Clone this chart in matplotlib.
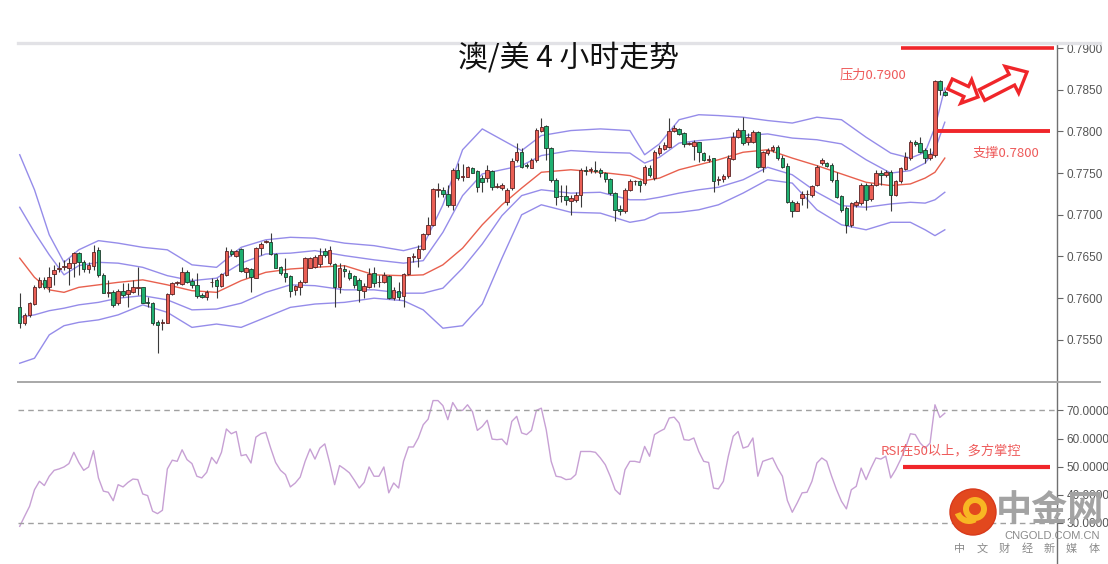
import matplotlib
matplotlib.use("Agg")
import matplotlib.pyplot as plt
import numpy as np
from matplotlib.patches import Polygon, Circle, Wedge
from matplotlib.lines import Line2D

plt.rcParams['font.family'] = ['Liberation Sans', 'Noto Sans CJK SC', 'DejaVu Sans']
CJK = ['Noto Sans CJK SC', 'DejaVu Sans']

# ---- data (prices in pips, 1e-4) ----
open_pips = [
    7589, 7570, 7580, 7593, 7613, 7622, 7613, 7629, 7635, 7637,
    7636, 7642, 7654, 7643, 7635, 7639, 7658, 7628, 7606, 7607,
    7594, 7609, 7605, 7607, 7612, 7613, 7595, 7594, 7571, 7570,
    7570, 7605, 7618, 7617, 7631, 7621, 7616, 7604, 7601, 7619,
    7622, 7615, 7628, 7657, 7651, 7659, 7631, 7635, 7624, 7660,
    7667, 7667, 7653, 7637, 7630, 7627, 7610, 7613, 7619, 7636,
    7637, 7641, 7657, 7642, 7641, 7613, 7635, 7630, 7627, 7622,
    7609, 7613, 7630, 7619, 7619, 7627, 7600, 7609, 7603, 7629,
    7649, 7648, 7659, 7677, 7688, 7730, 7730, 7725, 7712, 7754,
    7745, 7745, 7756, 7753, 7744, 7744, 7753, 7733, 7732, 7715,
    7732, 7766, 7775, 7760, 7756, 7766, 7801, 7807, 7780, 7742,
    7723, 7723, 7717, 7718, 7724, 7754, 7754, 7754, 7754, 7750,
    7743, 7726, 7707, 7704, 7730, 7740, 7740, 7738, 7756, 7744,
    7774, 7779, 7781, 7801, 7803, 7798, 7785, 7783, 7787, 7774,
    7766, 7768, 7742, 7743, 7747, 7767, 7793, 7802, 7787, 7787,
    7799, 7757, 7774, 7778, 7781, 7768, 7759, 7715, 7705, 7720,
    7725, 7724, 7736, 7762, 7762, 7760, 7742, 7723, 7708, 7688,
    7712, 7714, 7736, 7719, 7736, 7750, 7748, 7751, 7724, 7740,
    7755, 7768, 7787, 7786, 7778, 7768, 7772, 7860, 7847]
high_pips = [
    7606, 7582, 7595, 7616, 7625, 7625, 7637, 7640, 7643, 7646,
    7648, 7655, 7655, 7646, 7643, 7664, 7661, 7630, 7622, 7610,
    7611, 7618, 7618, 7622, 7637, 7613, 7601, 7595, 7574, 7575,
    7606, 7619, 7621, 7637, 7634, 7624, 7630, 7606, 7610, 7624,
    7624, 7630, 7661, 7659, 7658, 7660, 7637, 7636, 7661, 7667,
    7670, 7678, 7654, 7639, 7648, 7628, 7616, 7622, 7649, 7649,
    7652, 7660, 7660, 7662, 7642, 7642, 7640, 7634, 7628, 7624,
    7618, 7636, 7637, 7628, 7631, 7628, 7613, 7619, 7630, 7649,
    7654, 7664, 7678, 7697, 7732, 7738, 7733, 7736, 7756, 7762,
    7761, 7759, 7757, 7754, 7748, 7760, 7754, 7738, 7738, 7732,
    7768, 7786, 7780, 7762, 7768, 7804, 7816, 7808, 7781, 7744,
    7736, 7736, 7724, 7727, 7756, 7759, 7757, 7765, 7756, 7751,
    7744, 7727, 7712, 7732, 7743, 7742, 7742, 7760, 7760, 7778,
    7784, 7787, 7816, 7808, 7804, 7799, 7787, 7790, 7787, 7775,
    7772, 7768, 7746, 7749, 7772, 7799, 7804, 7817, 7798, 7802,
    7801, 7777, 7780, 7784, 7784, 7772, 7762, 7718, 7716, 7728,
    7730, 7736, 7760, 7768, 7763, 7762, 7751, 7724, 7710, 7715,
    7718, 7738, 7738, 7738, 7754, 7754, 7754, 7754, 7742, 7757,
    7775, 7790, 7790, 7793, 7780, 7780, 7862, 7862, 7850]
low_pips = [
    7564, 7568, 7577, 7592, 7612, 7611, 7607, 7616, 7631, 7634,
    7616, 7625, 7628, 7631, 7630, 7634, 7625, 7606, 7601, 7589,
    7592, 7601, 7589, 7606, 7604, 7594, 7589, 7568, 7534, 7562,
    7570, 7604, 7616, 7616, 7618, 7612, 7600, 7600, 7598, 7613,
    7600, 7613, 7627, 7651, 7649, 7631, 7624, 7607, 7624, 7652,
    7666, 7652, 7636, 7628, 7619, 7601, 7604, 7604, 7618, 7636,
    7636, 7637, 7649, 7640, 7589, 7606, 7625, 7622, 7612, 7595,
    7600, 7612, 7613, 7613, 7618, 7599, 7598, 7598, 7589, 7628,
    7643, 7637, 7658, 7676, 7687, 7721, 7721, 7709, 7706, 7742,
    7740, 7745, 7750, 7727, 7727, 7739, 7730, 7732, 7730, 7712,
    7730, 7763, 7756, 7756, 7756, 7763, 7799, 7766, 7739, 7712,
    7715, 7712, 7700, 7715, 7709, 7748, 7750, 7750, 7745, 7739,
    7724, 7693, 7700, 7702, 7729, 7736, 7727, 7736, 7745, 7742,
    7772, 7778, 7780, 7799, 7796, 7781, 7784, 7766, 7763, 7765,
    7763, 7727, 7736, 7739, 7744, 7766, 7792, 7784, 7784, 7786,
    7756, 7751, 7772, 7775, 7766, 7756, 7714, 7697, 7704, 7712,
    7708, 7721, 7734, 7760, 7757, 7739, 7720, 7703, 7678, 7685,
    7709, 7712, 7706, 7717, 7735, 7736, 7745, 7704, 7723, 7738,
    7754, 7766, 7782, 7774, 7762, 7766, 7769, 7844, 7843]
close_pips = [
    7570, 7580, 7594, 7613, 7622, 7613, 7625, 7634, 7636, 7638,
    7642, 7654, 7643, 7635, 7640, 7655, 7628, 7606, 7607, 7592,
    7609, 7604, 7610, 7613, 7613, 7594, 7594, 7570, 7568, 7571,
    7605, 7618, 7619, 7631, 7619, 7616, 7603, 7601, 7607, 7619,
    7615, 7629, 7657, 7653, 7657, 7633, 7636, 7625, 7660, 7665,
    7668, 7653, 7636, 7630, 7625, 7609, 7615, 7619, 7648, 7648,
    7649, 7652, 7652, 7658, 7613, 7636, 7633, 7624, 7616, 7610,
    7615, 7629, 7618, 7620, 7628, 7600, 7610, 7601, 7629, 7649,
    7650, 7659, 7677, 7688, 7731, 7731, 7725, 7712, 7754, 7744,
    7746, 7757, 7750, 7733, 7739, 7754, 7733, 7734, 7736, 7730,
    7765, 7775, 7757, 7759, 7766, 7802, 7805, 7780, 7742, 7721,
    7722, 7718, 7720, 7724, 7754, 7753, 7755, 7753, 7750, 7743,
    7726, 7706, 7705, 7730, 7741, 7741, 7736, 7757, 7748, 7775,
    7780, 7784, 7801, 7804, 7797, 7785, 7786, 7787, 7775, 7766,
    7767, 7741, 7743, 7747, 7768, 7793, 7802, 7786, 7793, 7799,
    7757, 7775, 7778, 7781, 7768, 7757, 7715, 7705, 7714, 7725,
    7725, 7734, 7757, 7766, 7759, 7742, 7721, 7706, 7688, 7714,
    7715, 7736, 7718, 7736, 7750, 7748, 7751, 7724, 7740, 7756,
    7769, 7787, 7785, 7775, 7768, 7773, 7861, 7850, 7844]

# bollinger-style bands, read at these bar positions
band_idx = [0, 3, 6, 9, 12, 16, 20, 25, 30, 35, 40, 45, 50, 55, 60, 66, 72, 78, 82, 86,
            90, 94, 98, 102, 106, 112, 118, 124, 127, 130, 134, 138, 142, 147, 152, 157,
            162, 167, 172, 177, 181, 184, 186, 188]
upper_outer = [7772, 7730, 7676, 7643, 7658, 7669, 7666, 7661, 7658, 7640, 7637, 7661, 7670,
               7673, 7672, 7666, 7663, 7657, 7663, 7712, 7778, 7803, 7790, 7777, 7795, 7801,
               7803, 7801, 7772, 7785, 7814, 7820, 7819, 7817, 7813, 7810, 7817, 7814, 7793,
               7774, 7768, 7775, 7805, 7852]
upper_inner = [7709, 7679, 7652, 7628, 7639, 7643, 7642, 7637, 7627, 7621, 7624, 7642, 7653,
               7654, 7657, 7651, 7646, 7642, 7645, 7679, 7723, 7749, 7754, 7759, 7771, 7777,
               7775, 7774, 7762, 7769, 7786, 7789, 7791, 7795, 7797, 7792, 7790, 7785, 7766,
               7750, 7753, 7762, 7778, 7811]
middle = [7648, 7625, 7610, 7607, 7613, 7616, 7619, 7622, 7616, 7609, 7607, 7621, 7631, 7635,
          7637, 7639, 7628, 7627, 7628, 7640, 7660, 7688, 7712, 7732, 7751, 7754, 7751, 7747,
          7741, 7744, 7754, 7760, 7766, 7775, 7778, 7768, 7759, 7749, 7739, 7735, 7737, 7744,
          7751, 7768]
lower_inner = [7577, 7580, 7585, 7588, 7592, 7595, 7600, 7603, 7598, 7586, 7587, 7594, 7607,
               7616, 7615, 7610, 7610, 7606, 7606, 7612, 7636, 7665, 7699, 7723, 7730, 7726,
               7727, 7718, 7718, 7721, 7726, 7730, 7733, 7742, 7757, 7748, 7727, 7711, 7709,
               7713, 7715, 7714, 7718, 7727]
lower_outer = [7522, 7528, 7556, 7567, 7571, 7574, 7580, 7592, 7583, 7565, 7569, 7565, 7577,
               7589, 7593, 7595, 7600, 7597, 7586, 7564, 7567, 7593, 7648, 7700, 7712, 7703,
               7702, 7691, 7694, 7702, 7703, 7706, 7712, 7726, 7742, 7738, 7706, 7688, 7682,
               7691, 7691, 7682, 7675, 7682]

rsi = [28.8, 32.4, 35.9, 41.8, 44.8, 43.3, 46.6, 48.7, 49.2, 49.9,
       51.1, 55.1, 51.5, 48.7, 49.9, 55.7, 46.0, 41.3, 40.9, 37.9,
       43.6, 42.8, 44.4, 45.6, 45.4, 40.3, 39.7, 34.2, 33.3, 34.5,
       49.2, 52.3, 51.9, 56.0, 52.5, 51.1, 46.6, 46.0, 48.0, 53.3,
       51.1, 55.1, 63.4, 61.7, 62.5, 53.9, 54.3, 51.3, 60.5, 61.7,
       62.2, 56.6, 51.5, 48.7, 47.2, 42.8, 44.2, 46.3, 51.9, 56.3,
       52.7, 56.6, 58.1, 51.3, 43.6, 50.4, 49.2, 47.8, 45.2, 42.4,
       44.4, 49.9, 46.6, 46.6, 49.9, 40.7, 44.2, 42.4, 51.9, 57.0,
       57.0, 60.2, 64.9, 66.9, 73.5, 73.5, 71.7, 66.7, 72.8, 70.0,
       70.0, 72.0, 69.6, 62.9, 64.3, 66.5, 59.8, 59.6, 59.8, 57.8,
       66.1, 67.9, 62.0, 61.4, 62.9, 70.0, 70.8, 63.1, 51.9, 46.6,
       46.3, 45.4, 45.6, 47.2, 55.4, 55.4, 55.4, 55.1, 53.1, 50.7,
       46.6, 41.8, 40.1, 48.9, 51.9, 51.9, 51.5, 57.2, 53.7, 61.4,
       62.5, 63.4, 67.3, 67.6, 65.5, 59.6, 59.4, 60.2, 55.4, 51.9,
       51.5, 42.4, 42.1, 44.8, 53.7, 60.8, 62.5, 56.6, 57.2, 60.2,
       46.6, 51.9, 52.5, 53.1, 49.5, 46.6, 38.0, 33.8, 37.1, 40.7,
       40.9, 44.8, 51.3, 53.1, 51.9, 46.6, 41.8, 37.7, 35.0, 41.8,
       43.0, 49.5, 45.4, 49.5, 53.1, 52.7, 53.7, 46.0, 48.9, 52.5,
       56.6, 61.7, 61.4, 58.4, 56.6, 58.4, 72.0, 67.5, 69.0]

price_ticks = [0.7550, 0.7600, 0.7650, 0.7700, 0.7750, 0.7800, 0.7850, 0.7900]
rsi_ticks = [30, 40, 50, 60, 70]

o = np.array(open_pips) / 1e4
h = np.array(high_pips) / 1e4
l = np.array(low_pips) / 1e4
c = np.array(close_pips) / 1e4
x = np.arange(len(o))

UP = '#ea5f55'
DOWN = '#1fb070'
RED = '#f0262a'
TXT_RED = '#ee5a5a'
BAND = '#8378e6'

W, H = 1108, 564
fig = plt.figure(figsize=(W / 100, H / 100), dpi=100)
fig.patch.set_facecolor('white')

def fx(px):
    return px / W

def fy(py):
    return 1 - py / H

left, right = fx(18), fx(1057)
ax = fig.add_axes([left, fy(382), right - left, fy(43) - fy(382)])
ax2 = fig.add_axes([left, 0, right - left, fy(382)])

# ---- main panel ----
for band in (upper_outer, upper_inner, lower_inner, lower_outer):
    ax.plot(band_idx, np.array(band) / 1e4, color=BAND, lw=1.0, alpha=0.85)
ax.plot(band_idx, np.array(middle) / 1e4, color='#e8604e', lw=1.0)

up = c >= o
ax.vlines(x, l, h, color='#3a3a3a', lw=0.8, zorder=3)
body_lo = np.minimum(o, c)
body_h = np.maximum(np.abs(c - o), 0.00003)
ax.bar(x[up], body_h[up], bottom=body_lo[up], width=0.72, color=UP,
       edgecolor='#5a2222', linewidth=0.6, zorder=4)
ax.bar(x[~up], body_h[~up], bottom=body_lo[~up], width=0.72, color=DOWN,
       edgecolor='#1e3a2a', linewidth=0.6, zorder=4)

ax.set_xlim(-0.35, 210.8)
ax.set_ylim(0.74995, 0.7906)

# resistance / support
ax.hlines(0.7900, 179.1, 210.2, color=RED, lw=2.6, zorder=5)
ax.hlines(0.7800, 186.4, 209.4, color=RED, lw=2.8, zorder=5)
ax.text(173.3, 0.78676, '压力0.7900', family=CJK, fontsize=9.5, color=TXT_RED,
        ha='center', va='center')
ax.text(200.5, 0.77741, '支撑0.7800', family=CJK, fontsize=9.5, color=TXT_RED,
        ha='center', va='center')

fig.text(fx(568), fy(58), '澳/美 4 小时走势', family=CJK, fontsize=21.5,
         ha='center', va='center', color='#111111')

# ---- RSI panel ----
ax2.plot(x, rsi, color='#c7a0d4', lw=1.0)
ax2.axhline(70, color='#a0a0a0', lw=1.0, ls=(0, (4, 3)))
ax2.axhline(30, color='#a0a0a0', lw=1.0, ls=(0, (4, 3)))
ax2.hlines(50, 179.5, 209.4, color=RED, lw=3.0, zorder=5)
ax2.text(189.3, 55.6, 'RSI在50以上，多方掌控', family=CJK, fontsize=9.5,
         color=TXT_RED, ha='center', va='center')
ax2.set_xlim(-0.35, 210.8)
ax2.set_ylim(15.4, 80.1)

for a, ticks in ((ax, price_ticks), (ax2, rsi_ticks)):
    a.yaxis.tick_right()
    a.set_yticks(ticks)
    a.set_yticklabels(['{:.4f}'.format(t) for t in ticks])
    a.tick_params(axis='y', direction='out', length=4, width=0.8, colors='#666666',
                  labelsize=8.5, labelcolor='#555555', pad=3)
    a.set_xticks([])
    for s in ('left', 'top', 'bottom'):
        a.spines[s].set_visible(False)
    a.spines['right'].set_color('#707070')
    a.spines['right'].set_linewidth(1.0)
    a.set_facecolor('none')

# frame lines
fig.add_artist(Line2D([fx(18), fx(1100)], [fy(43), fy(43)], color='#e2e2e6', lw=2.4))
fig.add_artist(Line2D([fx(18), fx(1100)], [fy(382), fy(382)], color='#a8a8a8', lw=1.4))

# hollow arrows (pixel geometry)
def hollow_arrow(tail, tip, shaft, head_w, head_len):
    t = np.array(tail, float)
    p = np.array(tip, float)
    d = (p - t) / np.linalg.norm(p - t)
    n = np.array([-d[1], d[0]])
    b = p - d * head_len
    pts = [t + n * shaft / 2, b + n * shaft / 2, b + n * head_w / 2, p,
           b - n * head_w / 2, b - n * shaft / 2, t - n * shaft / 2]
    pts = [(fx(q[0]), fy(q[1])) for q in pts]
    fig.add_artist(Polygon(pts, closed=True, fill=False, edgecolor=RED, lw=2.4,
                           joinstyle='miter', transform=fig.transFigure))

hollow_arrow((950, 84), (978, 97), 11, 26, 13)
hollow_arrow((982, 95), (1027, 72), 12, 30, 17)

# watermark logo (display pixels, origin bottom-left)
cx, cy = 973, H - 512
fig.add_artist(Circle((cx, cy), 23, transform=None, facecolor='#e2481e',
                      edgecolor='#d8391a', lw=1, zorder=10))
fig.add_artist(Wedge((cx + 2, cy + 3), 12, 0, 360, width=6, transform=None,
                     facecolor='#f8b623', edgecolor='none', zorder=11))
fig.add_artist(Wedge((cx - 4, cy + 3), 15, 200, 300, width=6, transform=None,
                     facecolor='#f8b623', edgecolor='none', zorder=11))
fig.text(fx(1050), fy(511), '中金网', family=CJK, fontsize=26, fontweight='bold',
         color='#a3a3a3', ha='center', va='center', zorder=12)
fig.text(fx(1052), fy(536), 'CNGOLD.COM.CN', fontsize=8, color='#8a8a8a',
         ha='center', va='center', zorder=12)
for i, ch in enumerate('中文财经新媒体'):
    fig.text(fx(960 + i * 22.3), fy(549), ch, family=CJK, fontsize=8,
             color='#8a8a8a', ha='center', va='center', zorder=12)

fig.savefig('out.png', dpi=100, facecolor='white')
